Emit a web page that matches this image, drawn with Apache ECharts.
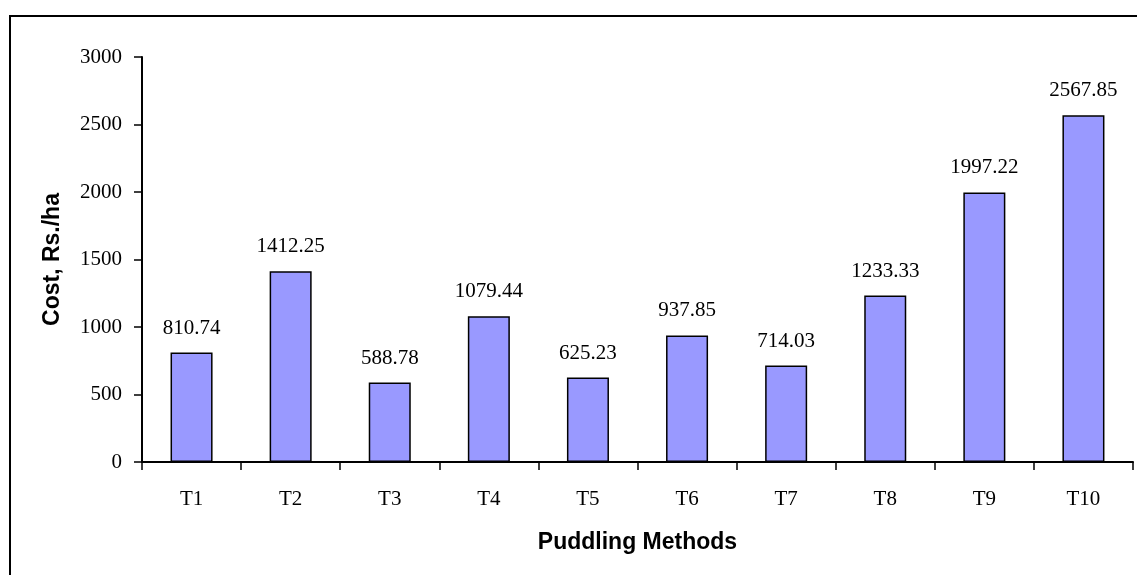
<!DOCTYPE html>
<html>
<head>
<meta charset="utf-8">
<script src="https://cdn.jsdelivr.net/npm/echarts@6/dist/echarts.min.js"></script>
<style>
  html, body { margin: 0; padding: 0; background: #fff; }
  #chart { width: 1137px; height: 575px; }
</style>
</head>
<body>
<div id="chart"></div>
<script>
// data
var categories = ['T1', 'T2', 'T3', 'T4', 'T5', 'T6', 'T7', 'T8', 'T9', 'T10'];
var costValues = [810.74, 1412.25, 588.78, 1079.44, 625.23, 937.85, 714.03, 1233.33, 1997.22, 2567.85];
var yTicks = [0, 500, 1000, 1500, 2000, 2500, 3000];

var chart = echarts.init(document.getElementById('chart'));

var serif = '"Liberation Serif", "Times New Roman", serif';
var sans = '"Liberation Sans", Arial, sans-serif';

var option = {
    animation: false,
    backgroundColor: '#fff',
    // outer frame of the figure (right and bottom run off the picture)
    graphic: [{
        type: 'rect',
        shape: { x: 10, y: 16, width: 1140, height: 580 },
        style: { fill: 'none', stroke: '#000', lineWidth: 2 },
        silent: true
    }],
    grid: { left: 142, right: 4, top: 57, bottom: 113, containLabel: false },
    xAxis: {
        type: 'category',
        data: categories,
        name: 'Puddling Methods',
        nameLocation: 'middle',
        nameGap: 69,
        nameTextStyle: { fontFamily: sans, fontWeight: 'bold', fontSize: 23, color: '#000' },
        axisLine: { lineStyle: { color: '#000', width: 2 } },
        axisTick: { show: true, length: 8, lineStyle: { color: '#000', width: 1.5 } },
        axisLabel: { fontFamily: serif, fontSize: 21, color: '#000', margin: 27 }
    },
    yAxis: {
        type: 'value',
        min: yTicks[0],
        max: yTicks[yTicks.length - 1],
        interval: 500,
        name: 'Cost, Rs./ha',
        nameLocation: 'middle',
        nameGap: 78,
        nameRotate: 90,
        nameTextStyle: { fontFamily: sans, fontWeight: 'bold', fontSize: 23, color: '#000' },
        axisLine: { show: true, lineStyle: { color: '#000', width: 2 } },
        axisTick: { show: true, length: 8, lineStyle: { color: '#000', width: 1.5 } },
        axisLabel: {
            fontFamily: serif, fontSize: 21, color: '#000', margin: 20,
            formatter: function (v) { return String(v); }
        },
        splitLine: { show: false }
    },
    series: [{
        type: 'bar',
        data: costValues,
        barWidth: '42.4%',
        itemStyle: { color: '#9999FF', borderColor: '#000', borderWidth: 1.5 },
        label: {
            show: true,
            position: 'top',
            distance: 14,
            fontFamily: serif,
            fontSize: 21,
            color: '#000',
            formatter: function (p) { return p.value.toFixed(2); }
        }
    }]
};

chart.setOption(option);
</script>
</body>
</html>
